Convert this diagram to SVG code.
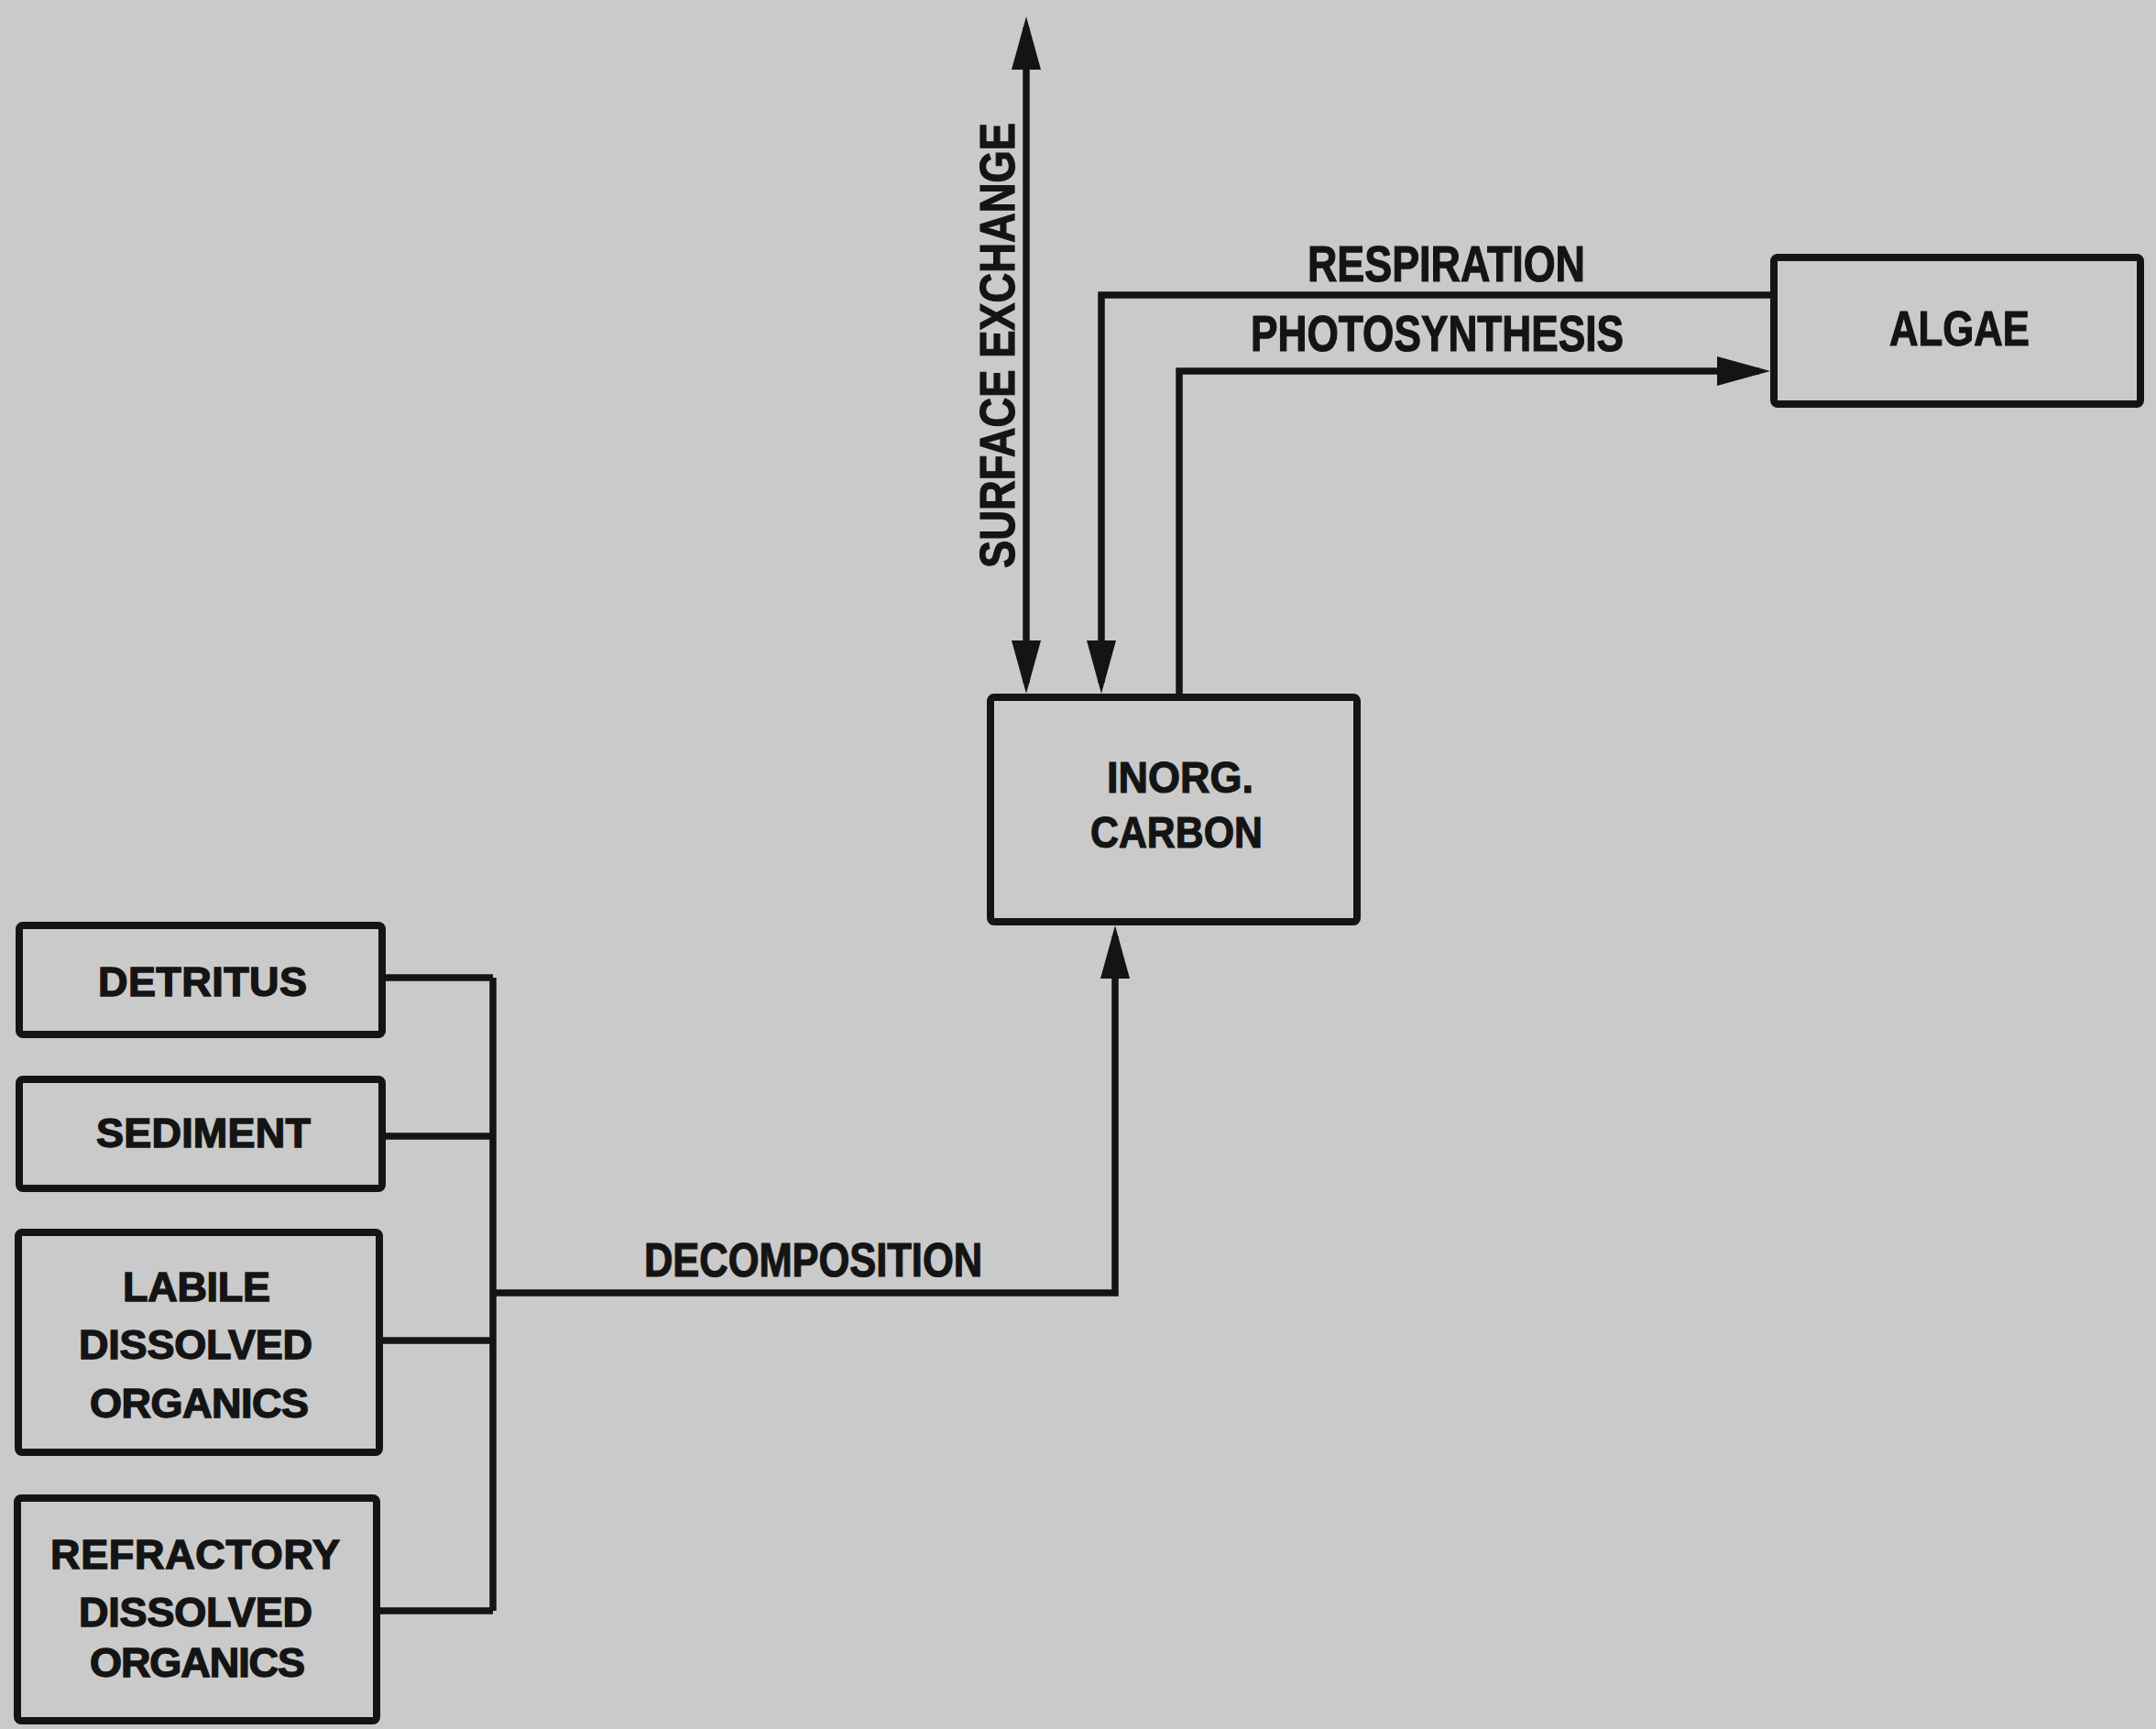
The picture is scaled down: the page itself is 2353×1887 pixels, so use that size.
<svg xmlns="http://www.w3.org/2000/svg" width="2353" height="1887" viewBox="0 0 2353 1887">
<style>
.box{fill:none;stroke:#141414;stroke-width:8}
.con{fill:none;stroke:#141414;stroke-width:7.5}
.cond{font-family:"Liberation Sans",Arial,sans-serif;font-weight:bold;fill:#141414;stroke:#141414;stroke-width:1.2;text-anchor:middle}
.wide{font-family:"Liberation Sans",Arial,sans-serif;font-weight:bold;fill:#141414;stroke:#141414;stroke-width:1.4;text-anchor:middle;font-size:45px}
</style>
<defs>
<marker id="ah" viewBox="0 0 58 32" refX="46" refY="16" markerWidth="58" markerHeight="32" markerUnits="userSpaceOnUse" orient="auto-start-reverse">
<path d="M0,0 L58,16 L0,32 Z" fill="#141414"/>
</marker>
</defs>
<rect x="0" y="0" width="2353" height="1887" fill="#cacaca"/>

<g id="connectors">
<path class="con" d="M1120,30 V745" marker-start="url(#ah)" marker-end="url(#ah)"/>
<path class="con" d="M1932,322 H1202 V745" marker-end="url(#ah)"/>
<path class="con" d="M1287,757 V405 H1920" marker-end="url(#ah)"/>
<path class="con" d="M421,1067 H538 M421,1240 H538 M418,1463 H538 M415,1758 H538 M538,1067 V1758"/>
<path class="con" d="M538,1411 H1217 V1022" marker-end="url(#ah)"/>
<text class="cond" font-size="54" transform="translate(1107,377) rotate(-90)" textLength="486" lengthAdjust="spacingAndGlyphs">SURFACE EXCHANGE</text>
<text class="cond" font-size="55" x="1578.5" y="307" textLength="303" lengthAdjust="spacingAndGlyphs">RESPIRATION</text>
<text class="cond" font-size="55" x="1568.5" y="383" textLength="407" lengthAdjust="spacingAndGlyphs">PHOTOSYNTHESIS</text>
<text class="cond" font-size="51" x="887.5" y="1393" textLength="369" lengthAdjust="spacingAndGlyphs">DECOMPOSITION</text>
</g>

<g id="algae">
<rect class="box" x="1936" y="281" width="400" height="160" rx="4"/>
<text class="cond" font-size="54" x="2138.5" y="377" textLength="153" lengthAdjust="spacingAndGlyphs">ALGAE</text>
</g>

<g id="inorg-carbon">
<rect class="box" x="1081" y="761" width="400" height="245" rx="4"/>
<text class="cond" font-size="49" x="1288" y="865" textLength="160" lengthAdjust="spacingAndGlyphs">INORG.</text>
<text class="cond" font-size="49" x="1284" y="925" textLength="188" lengthAdjust="spacingAndGlyphs">CARBON</text>
</g>

<g id="detritus">
<rect class="box" x="21" y="1010" width="396" height="119" rx="4"/>
<text class="wide" x="221" y="1087" textLength="228">DETRITUS</text>
</g>

<g id="sediment">
<rect class="box" x="21" y="1178" width="396" height="119" rx="4"/>
<text class="wide" x="222" y="1252" textLength="234">SEDIMENT</text>
</g>

<g id="labile-dom">
<rect class="box" x="20" y="1345" width="394" height="240" rx="4"/>
<text class="wide" x="214.5" y="1420" textLength="161">LABILE</text>
<text class="wide" x="213.5" y="1483" textLength="255">DISSOLVED</text>
<text class="wide" x="217.5" y="1547" textLength="239">ORGANICS</text>
</g>

<g id="refractory-dom">
<rect class="box" x="19" y="1635" width="392" height="243" rx="4"/>
<text class="wide" x="213" y="1712" textLength="316">REFRACTORY</text>
<text class="wide" x="213.5" y="1775" textLength="255">DISSOLVED</text>
<text class="wide" x="215.5" y="1830" textLength="235">ORGANICS</text>
</g>
</svg>
